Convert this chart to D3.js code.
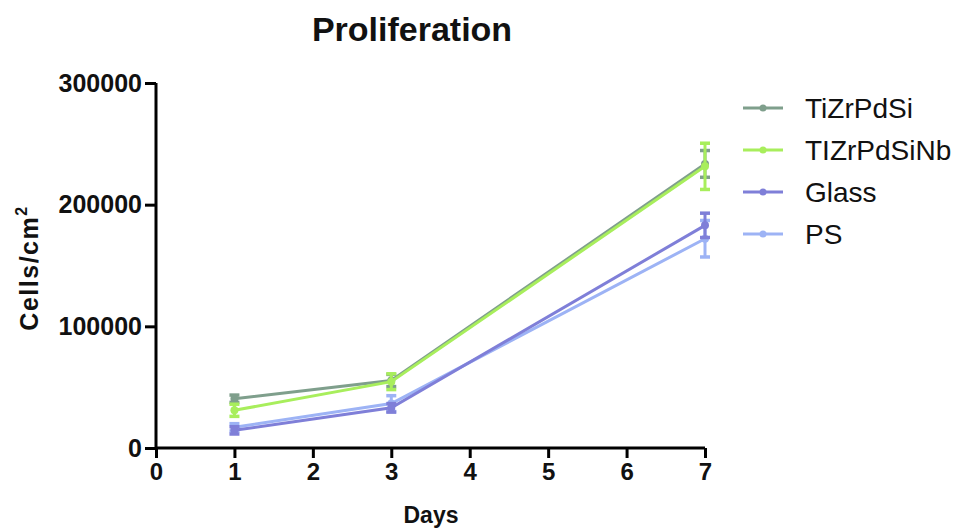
<!DOCTYPE html>
<html><head><meta charset="utf-8">
<script src="https://cdn.jsdelivr.net/npm/d3@7/dist/d3.min.js"></script>
<style>body{margin:0;background:#fff;font-family:"Liberation Sans",Arial,sans-serif;}</style>
</head><body><svg id="c" width="963" height="529"></svg>
<script>
const days = [1, 3, 7];
const seriesNames = ["TiZrPdSi", "TIZrPdSiNb", "Glass", "PS"];
const colors = ["#7f9f8c", "#a8ee5c", "#7f7fd8", "#9db3f5"];
const meanTiZrPdSi = [40500, 55500, 233500];
const errTiZrPdSi = [3000, 5000, 11000];
const meanTiZrPdSiNb = [31000, 54500, 231500];
const errTiZrPdSiNb = [5000, 6500, 19000];
const meanGlass = [14500, 33000, 183000];
const errGlass = [3000, 3500, 10000];
const meanPS = [17000, 36500, 172000];
const errPS = [3000, 6500, 15000];
const xTicks = [0, 1, 2, 3, 4, 5, 6, 7];
const yTicks = [0, 100000, 200000, 300000];

const means = [meanTiZrPdSi, meanTiZrPdSiNb, meanGlass, meanPS];
const errs = [errTiZrPdSi, errTiZrPdSiNb, errGlass, errPS];

const svg = d3.select("#c");
const x = d3.scaleLinear().domain([0, 7]).range([156, 705]);
const y = d3.scaleLinear().domain([0, 300000]).range([448, 83]);
const FF = "'Liberation Sans', Arial, sans-serif";

const drawOrder = [0, 1, 3, 2];
drawOrder.forEach(i => {
  const g = svg.append("g");
  const pts = days.map((d, k) => ({d, m: means[i][k], e: errs[i][k]}));
  g.append("path").datum(pts)
    .attr("fill", "none").attr("stroke", colors[i]).attr("stroke-width", 3)
    .attr("d", d3.line().x(p => x(p.d)).y(p => y(p.m)));
  pts.forEach(p => {
    g.append("line").attr("x1", x(p.d)).attr("x2", x(p.d))
      .attr("y1", y(p.m - p.e)).attr("y2", y(p.m + p.e))
      .attr("stroke", colors[i]).attr("stroke-width", 3);
    [p.m - p.e, p.m + p.e].forEach(v => {
      g.append("line").attr("x1", x(p.d) - 5).attr("x2", x(p.d) + 5)
        .attr("y1", y(v)).attr("y2", y(v))
        .attr("stroke", colors[i]).attr("stroke-width", 3.5);
    });
    g.append("circle").attr("cx", x(p.d)).attr("cy", y(p.m)).attr("r", 4)
      .attr("fill", colors[i]);
  });
});

const xAxis = svg.append("g").attr("transform", "translate(0,448)")
  .call(d3.axisBottom(x).tickValues(xTicks).tickFormat(d3.format("d")).tickSizeOuter(0).tickSize(10).tickPadding(5));
const yAxis = svg.append("g").attr("transform", "translate(156,0)")
  .call(d3.axisLeft(y).tickValues(yTicks).tickFormat(d3.format("d")).tickSizeOuter(0).tickSize(11).tickPadding(3));
[xAxis, yAxis].forEach(a => {
  a.select(".domain").attr("stroke", "#000").attr("stroke-width", 3);
  a.selectAll(".tick line").attr("stroke", "#000").attr("stroke-width", 3);
  a.selectAll(".tick text").attr("fill", "#111").style("font-size", "24px").style("font-weight", "bold")
    .style("font-family", FF);
});
yAxis.select(".domain").attr("d", "M0,448V83");
xAxis.select(".domain").attr("d", "M156,0H705");
yAxis.selectAll(".tick text").style("font-size", "25px");

svg.append("text").attr("x", 412).attr("y", 41).attr("text-anchor", "middle")
  .style("font-size", "34px").style("font-weight", "bold").attr("fill", "#111").text("Proliferation");
svg.append("text").attr("x", 431).attr("y", 523).attr("text-anchor", "middle")
  .style("font-size", "23px").style("font-weight", "bold").attr("fill", "#111").text("Days");
const yl = svg.append("text").attr("transform", "translate(38,268) rotate(-90)").attr("text-anchor", "middle")
  .style("font-size", "25px").style("font-weight", "bold").style("letter-spacing", "1.5px").attr("fill", "#111");
yl.append("tspan").text("Cells/cm");
yl.append("tspan").attr("dy", -11).style("font-size", "16px").text("2");

const legY = [108, 150, 192, 234];
seriesNames.forEach((n, i) => {
  const g = svg.append("g");
  g.append("line").attr("x1", 743).attr("x2", 783).attr("y1", legY[i]).attr("y2", legY[i])
    .attr("stroke", colors[i]).attr("stroke-width", 3);
  g.append("circle").attr("cx", 763).attr("cy", legY[i]).attr("r", 3.5).attr("fill", colors[i]);
  g.append("text").attr("x", 805).attr("y", legY[i] + 10).style("font-size", "28px").attr("fill", "#111").text(n);
});
</script></body></html>
